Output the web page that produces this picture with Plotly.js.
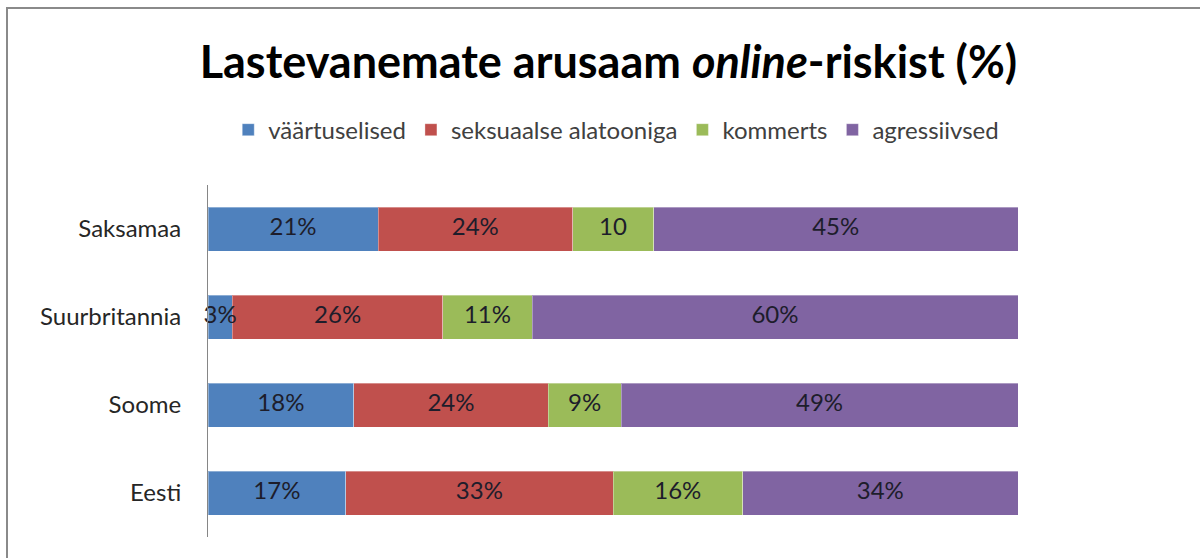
<!DOCTYPE html>
<html>
<head>
<meta charset="utf-8">
<script src="https://cdn.plot.ly/plotly-3.0.1.min.js"></script>
<style>
html,body{margin:0;padding:0;background:#fff;}
#chart{width:1200px;height:558px;}
</style>
</head>
<body>
<div id="chart"></div>
<script>
// Categories (bottom to top as drawn by Plotly)
const countries = ['Eesti', 'Soome', 'Suurbritannia', 'Saksamaa'];
const seriesNames = ['väärtuselised', 'seksuaalse alatooniga', 'kommerts', 'agressiivsed'];
const vaartuselised = [17, 18, 3, 21];
const seksuaalse = [33, 24, 26, 24];
const kommerts = [16, 9, 11, 10];
const agressiivsed = [34, 49, 60, 45];
// labels shown without the percent sign in the source
const kommertsLabels = ['16%', '9%', '11%', '10'];

const colors = ['#4F81BD', '#C0504D', '#9BBB59', '#8064A2'];
const allSeries = [vaartuselised, seksuaalse, kommerts, agressiivsed];
const labelSets = [
  vaartuselised.map(v => v + '%'),
  seksuaalse.map(v => v + '%'),
  kommertsLabels,
  agressiivsed.map(v => v + '%')
];

const FONT = 'Lato, "Open Sans", sans-serif';
const traces = [];
allSeries.forEach((vals, i) => {
  traces.push({
    type: 'bar',
    orientation: 'h',
    name: seriesNames[i],
    y: countries,
    x: vals,
    marker: {color: colors[i], line: {color: 'rgba(255,255,255,0.35)', width: 1}},
    hoverinfo: 'name+x'
  });
});

// data labels on top of all bars, at the middle of each segment
const lx = [], ly = [], lt = [];
const cum = countries.map(() => 0);
allSeries.forEach((vals, i) => {
  vals.forEach((v, j) => {
    lx.push(cum[j] + v / 2);
    ly.push(countries[j]);
    lt.push(labelSets[i][j]);
    cum[j] += v;
  });
});
traces.push({
  type: 'scatter',
  mode: 'text',
  x: lx, y: ly, text: lt,
  textposition: 'middle center',
  textfont: {family: FONT, size: 24, color: '#1d1d2b'},
  showlegend: false,
  hoverinfo: 'skip',
  cliponaxis: false
});

const layout = {
  width: 1200, height: 558,
  paper_bgcolor: '#ffffff',
  plot_bgcolor: '#ffffff',
  margin: {l: 208, r: 182, t: 185, b: 21},
  barmode: 'stack',
  bargap: 0.5,
  font: {family: FONT, color: '#333333'},
  title: {
    text: 'Lastevanemate arusaam <i>online</i>-riskist (%)',
    font: {family: FONT, size: 45, color: '#000000', weight: 'bold'},
    x: 0.507, xanchor: 'center',
    y: 0.888, yref: 'container', yanchor: 'middle'
  },
  legend: {
    orientation: 'h',
    x: 0.504, xanchor: 'center',
    y: 1.156, yanchor: 'middle',
    font: {family: FONT, size: 24, color: '#404040'},
    itemwidth: 30,
    traceorder: 'normal'
  },
  xaxis: {
    range: [0, 100],
    showgrid: false, zeroline: false, showticklabels: false,
    showline: false, ticks: '', fixedrange: true
  },
  yaxis: {
    type: 'category',
    categoryorder: 'array', categoryarray: countries,
    range: [-0.5, 3.5],
    showgrid: false, zeroline: false,
    showline: true, linecolor: '#868686', linewidth: 1,
    ticks: '', ticklabelstandoff: 21,
    tickfont: {family: FONT, size: 24, color: '#262626'},
    fixedrange: true
  },
  shapes: [{
    type: 'rect', xref: 'paper', yref: 'paper',
    x0: (7 - 208) / 810, x1: 1.4,
    y0: -0.3, y1: (537 - 8) / 352,
    line: {color: '#8a8a8a', width: 2},
    fillcolor: 'rgba(0,0,0,0)',
    layer: 'below'
  }],
  showlegend: true
};

Plotly.newPlot('chart', traces, layout, {displayModeBar: false, staticPlot: true});
</script>
</body>
</html>
